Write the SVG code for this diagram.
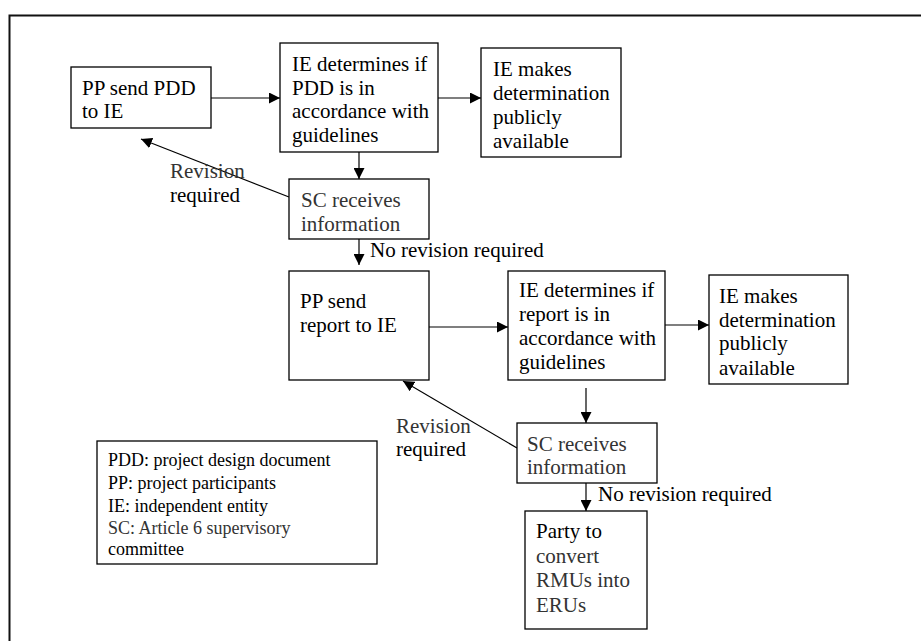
<svg xmlns="http://www.w3.org/2000/svg" width="921" height="641" viewBox="0 0 921 641">
<style>
  .box { fill: #fff; stroke: #000; stroke-width: 1.3; }
  .con { stroke: #000; stroke-width: 1.2; fill: none; marker-end: url(#ah); }
</style>
<defs>
  <marker id="ah" markerUnits="userSpaceOnUse" markerWidth="11" markerHeight="11" refX="11" refY="5.5" orient="auto">
    <path d="M0,0 L11,5.5 L0,11 Z" fill="#000"/>
  </marker>
</defs>
<rect x="0" y="0" width="921" height="641" fill="#fff"/>
<path d="M9.5,641 V15.5 H921" fill="none" stroke="#111" stroke-width="2"/>

<g id="connectors">
  <line class="con" x1="211" y1="98" x2="280" y2="98"/>
  <line class="con" x1="438" y1="98" x2="481" y2="98"/>
  <line class="con" x1="359" y1="152" x2="359" y2="179"/>
  <line class="con" x1="289" y1="197" x2="141" y2="139"/>
  <line class="con" x1="359" y1="239" x2="359" y2="265"/>
  <line class="con" x1="429" y1="327" x2="508" y2="327"/>
  <line class="con" x1="665" y1="325" x2="709" y2="325"/>
  <line class="con" x1="586" y1="388" x2="586" y2="423"/>
  <line class="con" x1="517" y1="448" x2="403" y2="381"/>
  <line class="con" x1="586" y1="483" x2="586" y2="511"/>
  <g font-family="Liberation Serif, Times New Roman, serif" font-size="21">
    <text fill="#333" x="170" y="178">Revision</text>
    <text fill="#000" x="170" y="202">required</text>
    <text fill="#000" x="370" y="257">No revision required</text>
    <text fill="#333" x="396" y="433">Revision</text>
    <text fill="#000" x="396" y="456">required</text>
    <text fill="#000" x="598" y="501">No revision required</text>
  </g>
</g>

<g id="pp-send-pdd" font-family="Liberation Serif, Times New Roman, serif" font-size="21" fill="#000">
  <rect class="box" x="71" y="67" width="140" height="61"/>
  <text x="82" y="95">PP send PDD</text>
  <text x="82" y="118">to IE</text>
</g>

<g id="ie-determines-pdd" font-family="Liberation Serif, Times New Roman, serif" font-size="21" fill="#000">
  <rect class="box" x="280" y="43" width="158" height="109"/>
  <text x="292" y="71">IE determines if</text>
  <text x="292" y="94.5">PDD is in</text>
  <text x="292" y="118">accordance with</text>
  <text x="292" y="141.5">guidelines</text>
</g>

<g id="ie-makes-1" font-family="Liberation Serif, Times New Roman, serif" font-size="21" fill="#000">
  <rect class="box" x="481" y="48" width="140" height="109"/>
  <text x="493" y="76">IE makes</text>
  <text x="493" y="100">determination</text>
  <text x="493" y="123.5">publicly</text>
  <text x="493" y="147.5">available</text>
</g>

<g id="sc-receives-1" font-family="Liberation Serif, Times New Roman, serif" font-size="21" fill="#333">
  <rect class="box" x="289" y="179" width="140" height="60"/>
  <text x="301" y="207">SC receives</text>
  <text x="301" y="231">information</text>
</g>

<g id="pp-send-report" font-family="Liberation Serif, Times New Roman, serif" font-size="21" fill="#000">
  <rect class="box" x="289" y="271" width="140" height="109"/>
  <text x="300" y="308">PP send</text>
  <text x="300" y="331.5">report to IE</text>
</g>

<g id="ie-determines-report" font-family="Liberation Serif, Times New Roman, serif" font-size="21" fill="#000">
  <rect class="box" x="508" y="271" width="157" height="109"/>
  <text x="519" y="297">IE determines if</text>
  <text x="519" y="321">report is in</text>
  <text x="519" y="345">accordance with</text>
  <text x="519" y="369">guidelines</text>
</g>

<g id="ie-makes-2" font-family="Liberation Serif, Times New Roman, serif" font-size="21" fill="#000">
  <rect class="box" x="709" y="275" width="139" height="109"/>
  <text x="719" y="302.5">IE makes</text>
  <text x="719" y="326.5">determination</text>
  <text x="719" y="350">publicly</text>
  <text x="719" y="374.5">available</text>
</g>

<g id="sc-receives-2" font-family="Liberation Serif, Times New Roman, serif" font-size="21" fill="#333">
  <rect class="box" x="517" y="423" width="140" height="60"/>
  <text x="527" y="450.5">SC receives</text>
  <text x="527" y="474">information</text>
</g>

<g id="party-convert" font-family="Liberation Serif, Times New Roman, serif" font-size="21" fill="#333">
  <rect class="box" x="525" y="511" width="122" height="118"/>
  <text x="536" y="538" fill="#000">Party to</text>
  <text x="536" y="563">convert</text>
  <text x="536" y="587">RMUs into</text>
  <text x="536" y="611.5">ERUs</text>
</g>

<g id="legend" font-family="Liberation Serif, Times New Roman, serif" font-size="18" fill="#000">
  <rect class="box" x="97" y="441" width="280" height="123"/>
  <text x="108" y="466">PDD: project design document</text>
  <text x="108" y="488.5">PP: project participants</text>
  <text x="108" y="511.5">IE: independent entity</text>
  <text x="108" y="533.5" fill="#333">SC: Article 6 supervisory</text>
  <text x="108" y="555">committee</text>
</g>
</svg>
